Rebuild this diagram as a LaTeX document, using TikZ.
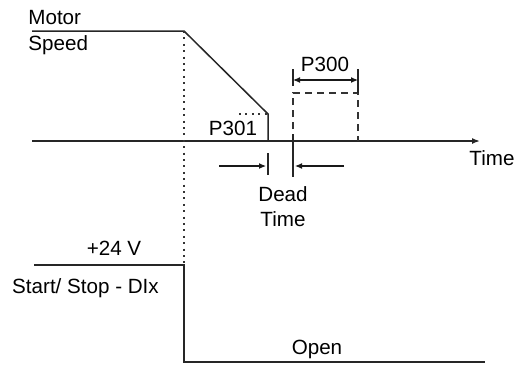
\documentclass[tikz,border=0pt]{standalone}
\usepackage{fontspec}
\setmainfont{Liberation Sans}
\usetikzlibrary{arrows.meta}

\begin{document}
\begin{tikzpicture}[
    x=0.5pt, y=-0.5pt,
    signal/.style={line width=0.75pt, black!85},
    guide/.style={line width=0.9pt, black!80, dash pattern=on 1pt off 2.2pt},
    window/.style={line width=0.65pt, black!80, dash pattern=on 3.5pt off 2.5pt},
    tick/.style={line width=0.6pt, black!85},
    arrow/.style={-{Latex[length=3.5pt, width=3pt]}, line width=0.55pt, black!90},
    label/.style={font=\fontsize{10.3}{12}\selectfont, inner sep=0pt}
]
\useasboundingbox (0,0) rectangle (514,365);

% motor speed
\coordinate (msStart) at (32,31);
\coordinate (msStop) at (184,31);
\coordinate (rampEnd) at (268,114);
\coordinate (rampFoot) at (268,141);
\coordinate (rampDot) at (239,114);
\coordinate (axisStart) at (32,141);
\coordinate (axisEnd) at (480,141);

\draw[signal] (msStart) -- (msStop) -- (rampEnd) -- (rampFoot);
\draw[signal, -{Latex[length=4pt, width=3pt]}] (axisStart) -- (axisEnd);
\draw[guide] (rampDot) -- (rampEnd);

% restart window
\coordinate (winBL) at (293,141);
\coordinate (winTL) at (293,93);
\coordinate (winTR) at (358,93);
\coordinate (winBR) at (358,141);
\draw[window] (winBL) -- (winTL) -- (winTR) -- (winBR);

\coordinate (p300L) at (293,80);
\coordinate (p300R) at (358,80);
\draw[tick] (293,69) -- (293,86);
\draw[tick] (358,69) -- (winTR);
\draw[arrow, {Latex[length=3.5pt, width=3pt]}-{Latex[length=3.5pt, width=3pt]}] (p300L) -- (p300R);

% dead time
\coordinate (deadL) at (268,153);
\coordinate (deadLb) at (268,175);
\coordinate (deadR) at (293,134);
\coordinate (deadRb) at (293,177);
\draw[tick] (deadL) -- (deadLb);
\draw[tick] (deadR) -- (deadRb);
\coordinate (inL) at (219,166);
\coordinate (inR) at (344,166);
\draw[arrow] (inL) -- (266,166);
\draw[arrow] (inR) -- (295,166);

% start / stop input
\coordinate (diStart) at (34,265);
\coordinate (diEdge) at (184,265);
\coordinate (diLow) at (184,362);
\coordinate (diEnd) at (485,362);
\draw[signal] (diStart) -- (diEdge) -- (diLow) -- (diEnd);
\draw[guide] (msStop) -- (diEdge);

% labels
\node[label, anchor=base west] (motor) at (28,24.5) {Motor};
\node[label, anchor=base west] (speed) at (28,50) {Speed};
\node[label, anchor=base] (p301) at (233,135) {P301};
\node[label, anchor=base] (p300) at (325,71.5) {P300};
\node[label, anchor=base] (time) at (492,165) {Time};
\node[label, anchor=base] (dead) at (283,201) {Dead};
\node[label, anchor=base] (deadtime) at (283,226) {Time};
\node[label, anchor=base] (volt) at (114,255) {+24 V};
\node[label, anchor=base] (dix) at (85.5,293) {Start/ Stop - DIx};
\node[label, anchor=base] (open) at (317,354) {Open};

\end{tikzpicture}
\end{document}
